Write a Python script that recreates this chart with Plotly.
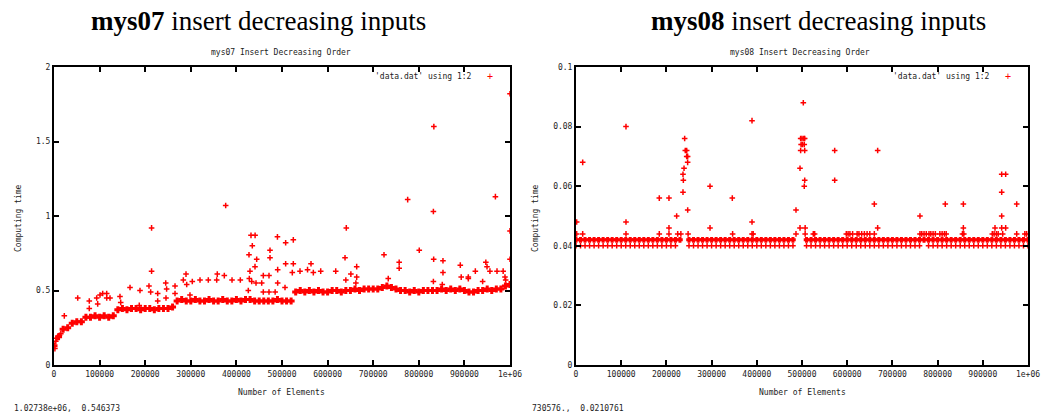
import plotly.graph_objects as go

W, H = 1043, 415

# ---------------- data: mys07 (left) ----------------
mys07_band_x = [0, 10000, 20000, 30000, 40000, 50000, 60000, 70000, 80000, 90000,
                100000, 110000, 120000, 130000, 140000, 150000, 160000, 170000, 180000, 190000,
                200000, 210000, 220000, 230000, 240000, 250000, 260000, 270000, 280000, 290000,
                300000, 310000, 320000, 330000, 340000, 350000, 360000, 370000, 380000, 390000,
                400000, 410000, 420000, 430000, 440000, 450000, 460000, 470000, 480000, 490000,
                500000, 510000, 520000, 530000, 540000, 550000, 560000, 570000, 580000, 590000,
                600000, 610000, 620000, 630000, 640000, 650000, 660000, 670000, 680000, 690000,
                700000, 710000, 720000, 730000, 740000, 750000, 760000, 770000, 780000, 790000,
                800000, 810000, 820000, 830000, 840000, 850000, 860000, 870000, 880000, 890000,
                900000, 910000, 920000, 930000, 940000, 950000, 960000, 970000, 980000, 990000,
                1000000]
mys07_band_y = [0.13, 0.19, 0.24, 0.25, 0.28, 0.29, 0.29, 0.32, 0.32, 0.33,
                0.32, 0.33, 0.32, 0.33, 0.37, 0.38, 0.37, 0.38, 0.38, 0.37,
                0.38, 0.38, 0.37, 0.38, 0.38, 0.38, 0.39, 0.43, 0.44, 0.43,
                0.43, 0.44, 0.43, 0.43, 0.44, 0.43, 0.43, 0.44, 0.43, 0.43,
                0.44, 0.43, 0.44, 0.44, 0.43, 0.43, 0.43, 0.43, 0.43, 0.44,
                0.43, 0.43, 0.43, 0.49, 0.50, 0.49, 0.50, 0.49, 0.50, 0.49,
                0.49, 0.50, 0.50, 0.49, 0.50, 0.50, 0.51, 0.50, 0.51, 0.51,
                0.51, 0.51, 0.52, 0.53, 0.52, 0.51, 0.50, 0.50, 0.49, 0.50,
                0.49, 0.50, 0.50, 0.50, 0.50, 0.51, 0.50, 0.51, 0.50, 0.51,
                0.50, 0.49, 0.49, 0.50, 0.50, 0.51, 0.50, 0.51, 0.51, 0.53,
                0.54]

mys07_out_x = [2000, 4000, 6000, 12000, 15000, 22600, 52000, 77400, 77400, 93600,
               95800, 100900, 106800, 115600, 115600, 122800, 144700, 146300, 166700, 187000,
               188600, 208300, 212000, 214000, 214000, 227400, 227400, 245000, 247000, 245600,
               265400, 265400, 283600, 289500, 291000, 298200, 303300, 320200, 338400, 356800,
               358100, 373500, 376500, 390400, 408600, 426100, 427600, 428300, 429800, 432000,
               433600, 434900, 440800, 441000, 443000, 444500, 455500, 459000, 459000, 471500,
               471500, 473700, 473700, 485000, 490000, 490500, 490500, 506600, 508000, 508000,
               522600, 524800, 524800, 539500, 556000, 563600, 568700, 584900, 617800, 638200,
               640000, 641000, 651000, 662000, 663800, 663800, 723700, 733000, 757000, 757000,
               775600, 801000, 832000, 832600, 832000, 833000, 851500, 853000, 853000, 891000,
               893000, 908600, 908600, 924000, 940000, 947000, 949600, 956000, 968000, 971500,
               985000, 989000, 990500, 1000000, 1000000, 1000000]
mys07_out_y = [0.11, 0.16, 0.18, 0.20, 0.21, 0.33, 0.45, 0.43, 0.38, 0.45,
               0.41, 0.47, 0.48, 0.48, 0.45, 0.45, 0.46, 0.42, 0.52, 0.40,
               0.50, 0.53, 0.49, 0.63, 0.92, 0.48, 0.43, 0.55, 0.51, 0.45,
               0.53, 0.48, 0.57, 0.61, 0.54, 0.47, 0.56, 0.57, 0.57, 0.57,
               0.61, 0.60, 1.07, 0.57, 0.57, 0.50, 0.74, 0.58, 0.63, 0.87,
               0.56, 0.80, 0.66, 0.87, 0.55, 0.71, 0.55, 0.60, 0.49, 0.60,
               0.49, 0.77, 0.72, 0.49, 0.86, 0.64, 0.55, 0.52, 0.82, 0.68,
               0.62, 0.84, 0.68, 0.63, 0.64, 0.68, 0.62, 0.63, 0.63, 0.72,
               0.57, 0.92, 0.61, 0.55, 0.66, 0.59, 0.74, 0.58, 0.69, 0.65,
               1.11, 0.77, 1.03, 0.71, 0.56, 1.60, 0.54, 0.70, 0.62, 0.67,
               0.59, 0.59, 0.58, 0.63, 0.56, 0.69, 0.66, 0.63, 1.13, 0.63,
               0.63, 0.59, 0.57, 1.82, 0.90, 0.71]

# ---------------- data: mys08 (right) ----------------
mys08_hi_x = [0, 10000, 20000, 30000, 40000, 50000, 60000, 70000, 80000, 90000,
              100000, 110000, 120000, 130000, 140000, 150000, 160000, 170000, 180000, 190000,
              200000, 210000, 220000, 230000, 250000, 260000, 270000, 280000, 290000,
              300000, 310000, 320000, 330000, 340000, 350000, 360000, 370000, 380000, 390000,
              400000, 410000, 420000, 430000, 440000, 450000, 460000, 470000, 480000,
              510000, 520000, 530000, 540000, 550000, 560000, 570000, 580000, 590000,
              600000, 610000, 620000, 630000, 640000, 650000, 660000, 670000, 680000, 690000,
              700000, 710000, 720000, 730000, 740000, 750000, 760000, 770000, 780000, 790000,
              800000, 810000, 820000, 830000, 840000, 850000, 860000, 870000, 880000, 890000,
              900000, 910000, 920000, 930000, 940000, 950000, 960000, 970000, 980000, 990000,
              1000000]
mys08_hi_y = [0.042] * len(mys08_hi_x)

mys08_lo_x = [0, 10000, 20000, 30000, 40000, 50000, 60000, 70000, 80000, 90000,
              100000, 110000, 120000, 130000, 140000, 150000, 160000, 170000, 180000, 190000,
              200000, 210000, 220000, 250000, 260000, 270000, 280000, 290000,
              300000, 310000, 320000, 330000, 340000, 350000, 360000, 370000, 380000, 390000,
              400000, 410000, 420000, 430000, 440000, 450000, 460000, 470000, 480000,
              510000, 520000, 530000, 540000, 550000, 560000, 570000, 580000, 590000,
              600000, 610000, 620000, 630000, 640000, 650000, 660000, 670000, 680000, 690000,
              700000, 710000, 720000, 730000, 740000, 750000, 760000, 780000, 790000,
              800000, 810000, 820000, 830000, 840000, 850000, 860000, 870000, 880000, 890000,
              900000, 910000, 920000, 930000, 940000, 950000, 960000, 970000, 980000, 990000,
              1000000]
mys08_lo_y = [0.040] * len(mys08_lo_x)

mys08_out_x = [1500, 14800, 110600, 184300, 205700, 225000, 232000, 248000, 346500, 389400,
               392000, 486700, 507000, 525000, 528000, 598000, 602000, 606000, 612000, 622000,
               626000, 632000, 638000, 644000, 650000, 660000, 761000, 765000, 770000, 775000,
               781000, 785000, 790000, 795000, 805000, 810000, 815000, 819000, 855000, 858000,
               921000, 925000, 930000, 934000, 944000, 975000, 993000, 997000,
               1500, 14800, 110600, 110600, 184300, 205700, 205700, 222700, 236700, 237500,
               236700, 239000, 240400, 241800, 244900, 244900, 247000, 247000, 247100, 296500,
               296500, 345800, 389400, 389400, 486700, 495600, 495600, 502900, 497000, 500000,
               504000, 506000, 498000, 501000, 505000, 497000, 506000, 506000, 505000, 507000,
               572300, 572300, 660000, 667400, 667400, 761000, 817000, 857000, 857000, 927000,
               941800, 950600, 941800, 941800, 941800, 950600, 975000]
mys08_out_y = [0.044, 0.044, 0.044, 0.044, 0.044, 0.044, 0.044, 0.044, 0.044, 0.044,
               0.044, 0.044, 0.044, 0.044, 0.044, 0.044, 0.044, 0.044, 0.044, 0.044,
               0.044, 0.044, 0.044, 0.044, 0.044, 0.044, 0.044, 0.044, 0.044, 0.044,
               0.044, 0.044, 0.044, 0.044, 0.044, 0.044, 0.044, 0.044, 0.044, 0.044,
               0.044, 0.044, 0.044, 0.044, 0.044, 0.044, 0.044, 0.044,
               0.048, 0.068, 0.080, 0.048, 0.056, 0.056, 0.046, 0.050, 0.058, 0.062,
               0.064, 0.066, 0.076, 0.072, 0.072, 0.070, 0.070, 0.068, 0.052, 0.060,
               0.046, 0.056, 0.082, 0.048, 0.052, 0.066, 0.046, 0.088, 0.076, 0.076,
               0.076, 0.076, 0.074, 0.074, 0.074, 0.072, 0.072, 0.062, 0.060, 0.046,
               0.072, 0.062, 0.054, 0.072, 0.046, 0.050, 0.054, 0.054, 0.046, 0.046,
               0.064, 0.064, 0.058, 0.050, 0.046, 0.046, 0.054]

x_tickvals = [0, 100000, 200000, 300000, 400000, 500000, 600000, 700000, 800000, 900000, 1000000]
x_ticktext = ["0", "100000", "200000", "300000", "400000", "500000", "600000",
              "700000", "800000", "900000", "1e+06"]
y1_tickvals = [0, 0.5, 1, 1.5, 2]
y1_ticktext = ["0", "0.5", "1", "1.5", "2"]
y2_tickvals = [0, 0.02, 0.04, 0.06, 0.08, 0.1]
y2_ticktext = ["0", "0.02", "0.04", "0.06", "0.08", "0.1"]

# ---------------- layout helpers ----------------
def px(x):
    return x / W

def py(y):
    return 1 - y / H

MONO = "DejaVu Sans Mono"
RED = "#ff0000"

def marker(size=4, width=1.5):
    return dict(symbol="cross-thin", size=size, color=RED, line=dict(color=RED, width=width))

fig = go.Figure()
fig.add_trace(go.Scatter(x=mys07_band_x, y=mys07_band_y, mode="markers", marker=marker(5, 3),
                         xaxis="x", yaxis="y", showlegend=False))
fig.add_trace(go.Scatter(x=mys07_out_x, y=mys07_out_y, mode="markers", marker=marker(4, 1.5),
                         xaxis="x", yaxis="y", showlegend=False))
fig.add_trace(go.Scatter(x=mys08_hi_x, y=mys08_hi_y, mode="markers", marker=marker(4, 3),
                         xaxis="x2", yaxis="y2", showlegend=False))
fig.add_trace(go.Scatter(x=mys08_lo_x, y=mys08_lo_y, mode="markers", marker=marker(4, 1.5),
                         xaxis="x2", yaxis="y2", showlegend=False))
fig.add_trace(go.Scatter(x=mys08_out_x, y=mys08_out_y, mode="markers", marker=marker(4, 1.5),
                         xaxis="x2", yaxis="y2", showlegend=False))

axis_common = dict(showgrid=False, zeroline=False, showline=True, linecolor="black",
                   linewidth=2, mirror="ticks", ticks="inside", ticklen=5, tickwidth=2,
                   automargin=False,
                   tickcolor="black", tickfont=dict(family=MONO, size=8, color="#222"))

ydom = [py(365), py(67)]
fig.update_layout(
    width=W, height=H, margin=dict(l=0, r=0, t=0, b=0, pad=0, autoexpand=False),
    paper_bgcolor="white", plot_bgcolor="white",
    xaxis=dict(domain=[px(54), px(510)], range=[0, 1000000], tickvals=x_tickvals,
               ticktext=x_ticktext, anchor="y", **axis_common),
    yaxis=dict(domain=ydom, range=[0, 2], tickvals=y1_tickvals, ticktext=y1_ticktext,
               anchor="x", **axis_common),
    xaxis2=dict(domain=[px(576), px(1028)], range=[0, 1000000], tickvals=x_tickvals,
                ticktext=x_ticktext, anchor="y2", **axis_common),
    yaxis2=dict(domain=ydom, range=[0, 0.1], tickvals=y2_tickvals, ticktext=y2_ticktext,
                anchor="x2", **axis_common),
)

ann = []
def text(x, y, s, size=8, family=MONO, color="#222", xanchor="center", angle=0):
    ann.append(dict(x=px(x), y=py(y), xref="paper", yref="paper", text=s, showarrow=False,
                    font=dict(family=family, size=size, color=color), xanchor=xanchor,
                    yanchor="middle", textangle=angle))

SERIF = "Liberation Serif"
text(258, 21, "<b>mys07</b> insert decreasing inputs", size=27, family=SERIF, color="black")
text(818, 21, "<b>mys08</b> insert decreasing inputs", size=27, family=SERIF, color="black")
text(281, 53, "mys07 Insert Decreasing Order")
text(800, 53, "mys08 Insert Decreasing Order")
text(18, 218, "Computing time", angle=-90)
text(535, 218, "Computing time", angle=-90)
text(281, 392, "Number of Elements")
text(802, 392, "Number of Elements")
text(12, 408, "1.02738e+06,  0.546373", xanchor="left")
text(530, 408, "730576.,  0.0210761", xanchor="left")
text(474, 76, "&#39;data.dat&#39; using 1:2", xanchor="right")
text(992, 76, "&#39;data.dat&#39; using 1:2", xanchor="right")
text(490, 76, "+", size=10, color=RED)
text(1008, 76, "+", size=10, color=RED)
fig.update_layout(annotations=ann)

post = ("document.documentElement.style.overflow='hidden';"
        "document.body.style.margin='0';document.body.style.overflow='hidden';"
        "var d=document.querySelector('.plotly-graph-div');"
        "d.style.position='fixed';d.style.left='0';d.style.top='0';")
fig.write_html("out.html", config={"displayModeBar": False}, post_script=post)
